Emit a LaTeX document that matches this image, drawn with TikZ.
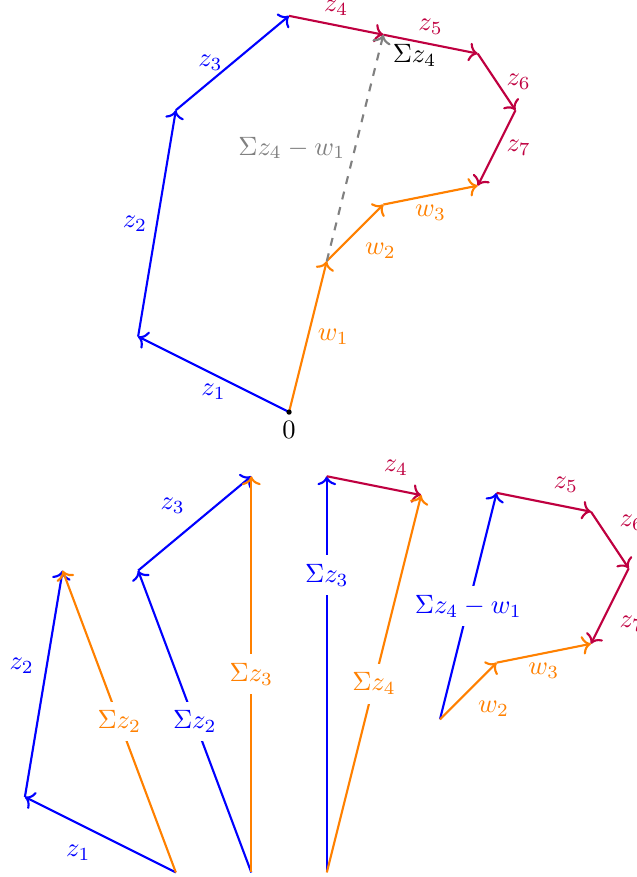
\documentclass[tikz,border=0pt]{standalone}
\usepackage{amsmath,amssymb}
\usetikzlibrary{arrows.meta}

\begin{document}
\begin{tikzpicture}[
  zvec/.style={->, thick, blue},
  zrest/.style={->, thick, purple},
  wvec/.style={->, thick, orange},
  diff/.style={->, thick, gray, dashed},
  cut/.style={fill=white}
]
\useasboundingbox (-3.83,-6.16) rectangle (4.61,5.46);

% top: both sums from 0
\coordinate (o) at (0,0);
\path (o) ++(-2,1) coordinate (p1) ++(0.5,3) coordinate (p2)
  ++(1.5,1.25) coordinate (p3) ++(1.25,-0.25) coordinate (p4)
  ++(1.25,-0.25) coordinate (p5) ++(0.5,-0.75) coordinate (p6)
  ++(-0.5,-1) coordinate (p7);
\path (o) ++(0.5,2) coordinate (q1) ++(0.75,0.75) coordinate (q2)
  ++(1.25,0.25) coordinate (q3);

\draw[zvec]  (o)  -- node[below] {$z_1$} (p1);
\draw[zvec]  (p1) -- node[left]  {$z_2$} (p2);
\draw[zvec]  (p2) -- node[left]  {$z_3$} (p3);
\draw[zrest] (p3) -- node[above] {$z_4$} (p4);
\draw[zrest] (p4) -- node[above] {$z_5$} (p5);
\draw[zrest] (p5) -- node[right] {$z_6$} (p6);
\draw[zrest] (p6) -- node[right] {$z_7$} (p7);
\draw[wvec]  (o)  -- node[right] {$w_1$} (q1);
\draw[wvec]  (q1) -- node[below right] {$w_2$} (q2);
\draw[wvec]  (q2) -- node[below] {$w_3$} (q3);
\draw[diff]  (q1) -- node[left] {$\Sigma z_4 - w_1$} (p4);
\node[below right] (sum4) at (p4) {$\Sigma z_4$};
\fill (o) circle (1pt);
\node[below] (zero) at (o) {$0$};

% bottom, step 1
\coordinate (a0) at (-1.5,-6.1);
\path (a0) ++(-2,1) coordinate (a1) ++(0.5,3) coordinate (a2);
\draw[zvec] (a0) -- node[below left] {$z_1$} (a1);
\draw[zvec] (a1) -- node[above left] {$z_2$} (a2);
\draw[wvec] (a0) -- node[cut] {$\Sigma z_2$} (a2);

% step 2
\coordinate (b0) at (-0.5,-6.1);
\path (b0) ++(-1.5,4) coordinate (b1) ++(1.5,1.25) coordinate (b2);
\draw[zvec] (b0) -- node[cut] {$\Sigma z_2$} (b1);
\draw[zvec] (b1) -- node[above left] {$z_3$} (b2);
\draw[wvec] (b0) -- node[cut] {$\Sigma z_3$} (b2);

% step 3
\coordinate (c0) at (0.5,-6.1);
\path (c0) ++(0,5.25) coordinate (c1) ++(1.25,-0.25) coordinate (c2);
\draw[zvec]  (c0) -- node[cut, pos=0.75] {$\Sigma z_3$} (c1);
\draw[zrest] (c1) -- node[above right] {$z_4$} (c2);
\draw[wvec]  (c0) -- node[cut] {$\Sigma z_4$} (c2);

% step 4
\coordinate (d0) at (2,-4.07);
\path (d0) ++(0.75,3) coordinate (d1) ++(1.25,-0.25) coordinate (d2)
  ++(0.5,-0.75) coordinate (d3) ++(-0.5,-1) coordinate (d4);
\path (d0) ++(0.75,0.75) coordinate (e1) ++(1.25,0.25) coordinate (e2);
\draw[zvec]  (d0) -- node[cut] {$\Sigma z_4 - w_1$} (d1);
\draw[zrest] (d1) -- node[above right] {$z_5$} (d2);
\draw[zrest] (d2) -- node[above right] {$z_6$} (d3);
\draw[zrest] (d3) -- node[below right] {$z_7$} (d4);
\draw[wvec]  (d0) -- node[below right] {$w_2$} (e1);
\draw[wvec]  (e1) -- node[below] {$w_3$} (e2);
\end{tikzpicture}
\end{document}
